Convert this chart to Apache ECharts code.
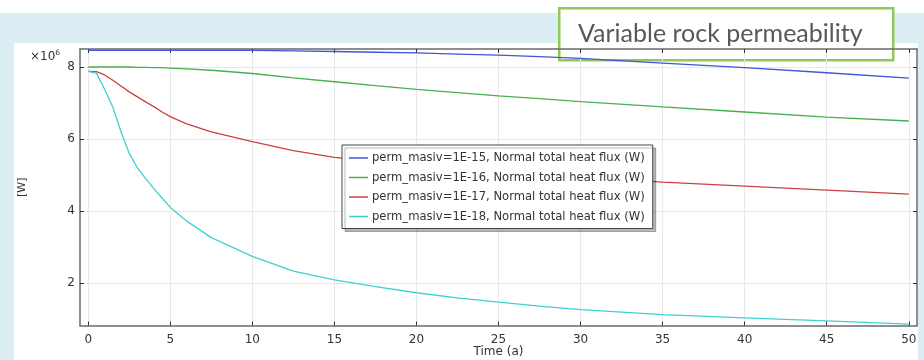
<!DOCTYPE html>
<html>
<head>
<meta charset="utf-8">
<script src="https://cdn.jsdelivr.net/npm/echarts@6/dist/echarts.min.js"></script>
<style>
html,body{margin:0;padding:0;background:#fff;}
#chart{width:924px;height:360px;}
</style>
</head>
<body>
<div id="chart"></div>
<script>
// ---- data (time in years, heat flux in 1e6 W) ----
const times = [0,0.5,1,1.5,2,2.5,3,3.5,4,4.5,5,6,7.5,10,12.5,15,17.5,20,22.5,25,27.5,30,35,40,45,50];
const perm15 = [8.46,8.46,8.46,8.46,8.46,8.46,8.46,8.46,8.46,8.46,8.46,8.46,8.46,8.46,8.45,8.43,8.41,8.39,8.36,8.33,8.29,8.24,8.11,7.98,7.84,7.69];
const perm16 = [8.00,8.00,8.00,8.00,8.00,8.00,7.99,7.99,7.98,7.98,7.97,7.95,7.91,7.82,7.70,7.59,7.48,7.38,7.29,7.20,7.12,7.04,6.89,6.75,6.61,6.50];
const perm17 = [7.88,7.87,7.78,7.63,7.47,7.31,7.17,7.03,6.90,6.75,6.62,6.42,6.20,5.93,5.68,5.49,5.38,5.28,5.19,5.11,5.03,4.95,4.80,4.69,4.58,4.47];
const perm18 = [7.88,7.83,7.38,6.88,6.20,5.60,5.20,4.90,4.62,4.36,4.10,3.72,3.26,2.74,2.33,2.09,1.90,1.73,1.59,1.47,1.36,1.26,1.12,1.03,0.95,0.86];
const seriesNames = [
  'perm_masiv=1E-15, Normal total heat flux (W)',
  'perm_masiv=1E-16, Normal total heat flux (W)',
  'perm_masiv=1E-17, Normal total heat flux (W)',
  'perm_masiv=1E-18, Normal total heat flux (W)'
];
const xTicks = [0,5,10,15,20,25,30,35,40,45,50];
const yTicks = [2,4,6,8];
const titleText = 'Variable rock permeability';

const seriesValues = [perm15, perm16, perm17, perm18];
const colors = ['#4055d8', '#47b04b', '#cc4040', '#40d0d0'];

const chart = echarts.init(document.getElementById('chart'));
const font = 'DejaVu Sans';
const axisColor = '#6a6a6a';
const gridColor = '#e8e8e8';

function xAxisCfg(pos, main) {
  return {
    type: 'value', position: pos, min: -0.5, max: 50.5,
    axisLine: {show: true, onZero: false, lineStyle: {color: axisColor, width: 1.5}},
    axisTick: {show: true, inside: true, length: 4, customValues: xTicks, lineStyle: {color: '#333'}},
    axisLabel: main ? {show: true, customValues: xTicks, margin: 8, fontSize: 12, color: '#333', fontFamily: font} : {show: false},
    splitLine: main ? {show: true, lineStyle: {color: gridColor, width: 1}} : {show: false},
    name: main ? 'Time (a)' : '',
    nameLocation: 'middle', nameGap: 20, nameMoveOverlap: false,
    nameTextStyle: {fontSize: 12, color: '#333', fontFamily: font}
  };
}
function yAxisCfg(pos, main) {
  return {
    type: 'value', position: pos, min: 0.82, max: 8.5,
    axisLine: {show: true, onZero: false, lineStyle: {color: axisColor, width: 1.5}},
    axisTick: {show: true, inside: true, length: 4, customValues: yTicks, lineStyle: {color: '#333'}},
    axisLabel: main ? {show: true, customValues: yTicks, margin: 5, fontSize: 12, color: '#333', fontFamily: font} : {show: false},
    splitLine: main ? {show: true, lineStyle: {color: gridColor, width: 1}} : {show: false},
    name: main ? '[W]' : '',
    nameLocation: 'middle', nameGap: 52, nameRotate: 90, nameMoveOverlap: false,
    nameTextStyle: {fontSize: 11, color: '#333', fontFamily: font}
  };
}

const option = {
  animation: false,
  backgroundColor: '#ffffff',
  grid: {left: 80, right: 7, top: 49, bottom: 34.5, containLabel: false, outerBoundsMode: 'none'},
  xAxis: [xAxisCfg('bottom', true), xAxisCfg('top', false)],
  yAxis: [yAxisCfg('left', true), yAxisCfg('right', false)],
  legend: {
    orient: 'vertical', left: 342, top: 145,
    padding: [6, 8, 5, 7],
    itemGap: 5.5, itemWidth: 19, itemHeight: 1.5,
    icon: 'rect',
    backgroundColor: '#ffffff',
    borderColor: '#444', borderWidth: 1,
    shadowColor: 'rgba(0,0,0,0.28)', shadowBlur: 0, shadowOffsetX: 3, shadowOffsetY: 3,
    textStyle: {fontSize: 11.6, color: '#333', fontFamily: font, lineHeight: 14, padding: [0,0,0,-1]},
    data: seriesNames,
    z: 10
  },
  graphic: [
    {type: 'rect', silent: true, z: -10, shape: {x: 0, y: 13, width: 924, height: 347}, style: {fill: '#dcedf3'}},
    {type: 'rect', silent: true, z: -9, shape: {x: 14, y: 43, width: 904, height: 317}, style: {fill: '#ffffff'}},
    {type: 'text', silent: true, left: 30, top: 49, z: 5,
      style: {text: '{a|×10}{b|6}', rich: {a: {fontSize: 12, fontFamily: font, fill: '#333', verticalAlign: 'bottom'}, b: {fontSize: 7.5, fontFamily: font, fill: '#333', verticalAlign: 'top', padding: [0,0,6,0]}}}},
    {type: 'group', left: 558, top: 7, z: 100, children: [
      {type: 'rect', shape: {x: 0, y: 0, width: 334, height: 52}, style: {fill: '#ffffff', stroke: '#92c85a', lineWidth: 2.5}},
      {type: 'text', style: {text: titleText, x: 161, y: 26, align: 'center', verticalAlign: 'middle', fontSize: 25, fontFamily: 'Lato', fill: '#585858'}}
    ]}
  ],
  series: seriesValues.map((vals, i) => ({
    name: seriesNames[i],
    type: 'line',
    xAxisIndex: 0, yAxisIndex: 0,
    data: times.map((t, j) => [t, vals[j]]),
    showSymbol: false, symbol: 'none',
    lineStyle: {color: colors[i], width: 1.3},
    itemStyle: {color: colors[i]},
    smooth: false,
    z: 3
  }))
};
chart.setOption(option);
</script>
</body>
</html>
